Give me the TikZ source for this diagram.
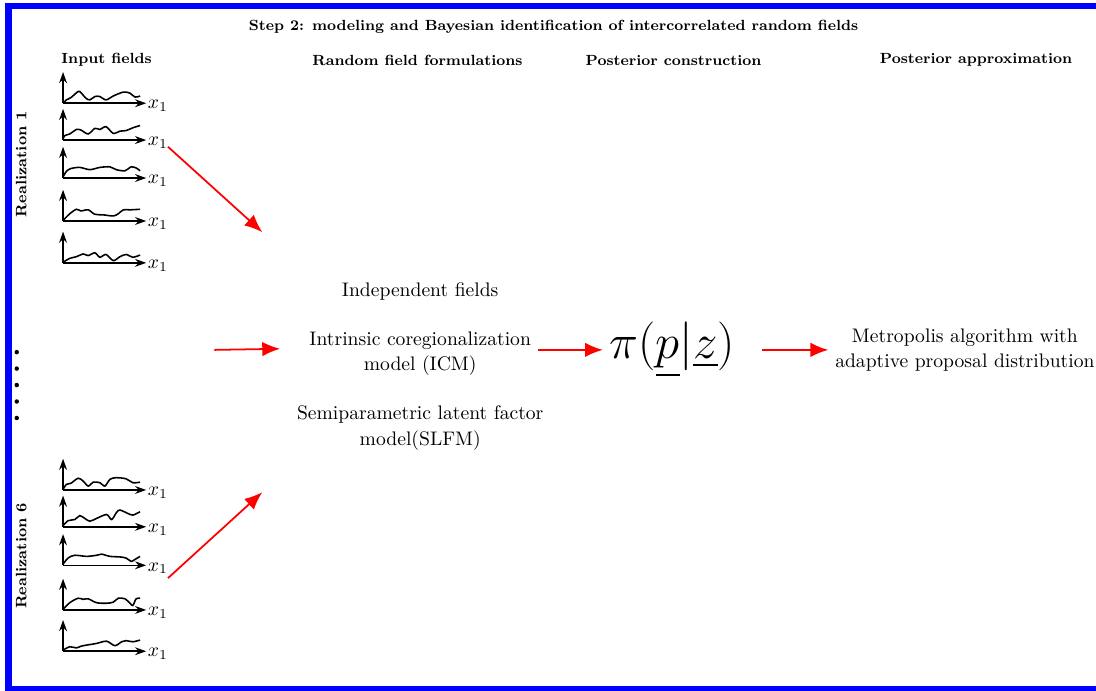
\documentclass[tikz,border=0pt]{standalone}
\usepackage{amsmath}
\usepackage{tikz}
\usetikzlibrary{arrows.meta}
\usetikzlibrary{calc}
\tikzset{hd/.style={font=\fontsize{7.5}{7.5}\selectfont\bfseries}}
\tikzset{rl/.style={font=\fontsize{7.7}{7.7}\selectfont\bfseries, rotate=90}}
\tikzset{tx/.style={font=\fontsize{10}{13}\selectfont, align=center}}
\tikzset{ax/.style={thick, -{Stealth[length=2mm,width=1.4mm]}}}
\tikzset{wg/.style={thick}}
\tikzset{fl/.style={red, line width=0.9pt, -{Latex[length=3.2mm,width=2.6mm]}}}
% one input field: #1 label name, #2 baseline, #3 wiggle
\newcommand{\randfield}[3]{%
  \draw[ax] (1.13,#2) -- ++(0,0.56);
  \draw[ax] (1.13,#2) -- ++(1.49,0) node (#1) [right=0pt, inner sep=0.5pt, yshift=-1.5pt] {$x_1$};
  \draw[wg, shift={(1.13,#2)}] plot[smooth] coordinates {#3};}

\begin{document}
\begin{tikzpicture}
  \useasboundingbox (0,0) rectangle (19.64,-12.366);
  \draw[blue, line width=3.4pt] (0.15,-0.11) rectangle (19.71,-12.35);

  \node[hd] (title) at (9.92,-0.48) {Step 2: modeling and Bayesian identification of intercorrelated random fields};
  \node[hd] (hin)   at (1.91,-1.08) {Input fields};
  \node[hd] (hrf)   at (7.48,-1.08) {Random field formulations};
  \node[hd] (hpc)   at (12.07,-1.08) {Posterior construction};
  \node[hd] (hpa)   at (17.49,-1.08) {Posterior approximation};

  \node[rl] (real1) at (0.38,-2.94) {Realization 1};
  \node[rl] (real6) at (0.38,-9.96) {Realization 6};
  \foreach \i in {0,...,4}
    \fill (0.30,{-6.31-0.295*\i}) circle (0.04);

  % realization 1
  \randfield{r1a}{-1.85}{(0,0) (0.06,0.06) (0.14,0.1) (0.27,0.21) (0.32,0.19) (0.41,0.09) (0.48,0.06) (0.57,0.12) (0.66,0.12) (0.77,0.06) (0.9,0.13) (1.08,0.2) (1.2,0.18) (1.29,0.11) (1.38,0.13)}
  \randfield{r1b}{-2.51}{(0,0.02) (0.03,0.08) (0.12,0.11) (0.24,0.19) (0.32,0.18) (0.45,0.11) (0.57,0.21) (0.66,0.19) (0.77,0.24) (0.9,0.12) (1.02,0.16) (1.13,0.17) (1.25,0.22) (1.38,0.26)}
  \randfield{r1c}{-3.19}{(0,0.02) (0.06,0.12) (0.14,0.17) (0.3,0.19) (0.48,0.15) (0.66,0.19) (0.84,0.2) (0.95,0.15) (1.11,0.13) (1.22,0.2) (1.31,0.18) (1.38,0.13)}
  \randfield{r1d}{-3.96}{(0,0.01) (0.12,0.13) (0.24,0.21) (0.32,0.18) (0.45,0.2) (0.57,0.12) (0.72,0.11) (0.9,0.09) (0.99,0.13) (1.08,0.2) (1.2,0.2) (1.38,0.21)}
  \randfield{r1e}{-4.71}{(0,0.01) (0.12,0.08) (0.24,0.11) (0.36,0.16) (0.45,0.13) (0.57,0.18) (0.66,0.1) (0.77,0.15) (0.9,0.04) (1.02,0.11) (1.13,0.15) (1.25,0.1) (1.38,0.14)}

  % realization 6
  \randfield{r6a}{-8.78}{(0,0.01) (0.06,0.1) (0.14,0.12) (0.27,0.21) (0.36,0.16) (0.45,0.07) (0.54,0.14) (0.66,0.13) (0.75,0.07) (0.84,0.19) (0.95,0.22) (1.13,0.2) (1.25,0.13) (1.38,0.14)}
  \randfield{r6b}{-9.44}{(0,0.02) (0.09,0.11) (0.21,0.13) (0.3,0.2) (0.39,0.15) (0.48,0.1) (0.6,0.15) (0.78,0.22) (0.87,0.13) (0.96,0.26) (1.02,0.3) (1.16,0.24) (1.25,0.21) (1.38,0.27)}
  \randfield{r6c}{-10.13}{(0,0.02) (0.09,0.13) (0.21,0.18) (0.42,0.16) (0.6,0.18) (0.69,0.2) (0.84,0.16) (1.02,0.15) (1.13,0.13) (1.22,0.07) (1.28,0.1) (1.38,0.16)}
  \randfield{r6d}{-10.93}{(0,0.01) (0.12,0.13) (0.27,0.21) (0.36,0.19) (0.45,0.2) (0.6,0.13) (0.78,0.12) (0.9,0.14) (0.99,0.21) (1.11,0.2) (1.2,0.12) (1.25,0.08) (1.31,0.2) (1.38,0.21)}
  \randfield{r6e}{-11.67}{(0,0.02) (0.12,0.08) (0.24,0.06) (0.32,0.09) (0.42,0.11) (0.6,0.14) (0.78,0.18) (0.93,0.1) (1.05,0.17) (1.13,0.19) (1.25,0.17) (1.38,0.2)}

  \node[tx] (ind)   at (7.53,-5.23) {Independent fields};
  \node[tx] (icm)   at (7.53,-6.34) {Intrinsic coregionalization\\model (ICM)};
  \node[tx] (slfm)  at (7.53,-7.67) {Semiparametric latent factor\\model(SLFM)};
  \node (post)      at (12.05,-6.27) {\Huge $\pi(\underline{p}|\underline{z})$};
  \node[tx] (metro) at (17.29,-6.27) {Metropolis algorithm with\\adaptive proposal distribution};

  \coordinate (s1) at (3.01,-2.63);
  \coordinate (t1) at (4.70,-4.16);
  \coordinate (s2) at (3.84,-6.27);
  \coordinate (t2) at (5.02,-6.25);
  \coordinate (s3) at (3.01,-10.36);
  \coordinate (t3) at (4.70,-8.82);
  \draw[fl] (s1) -- (t1);
  \draw[fl] (s2) -- (t2);
  \draw[fl] (s3) -- (t3);
  \draw[fl] (icm.east |- post.west) -- (post.west);
  \draw[fl, shorten <=0.36cm] (post.east) -- (metro.west);
\end{tikzpicture}
\end{document}
